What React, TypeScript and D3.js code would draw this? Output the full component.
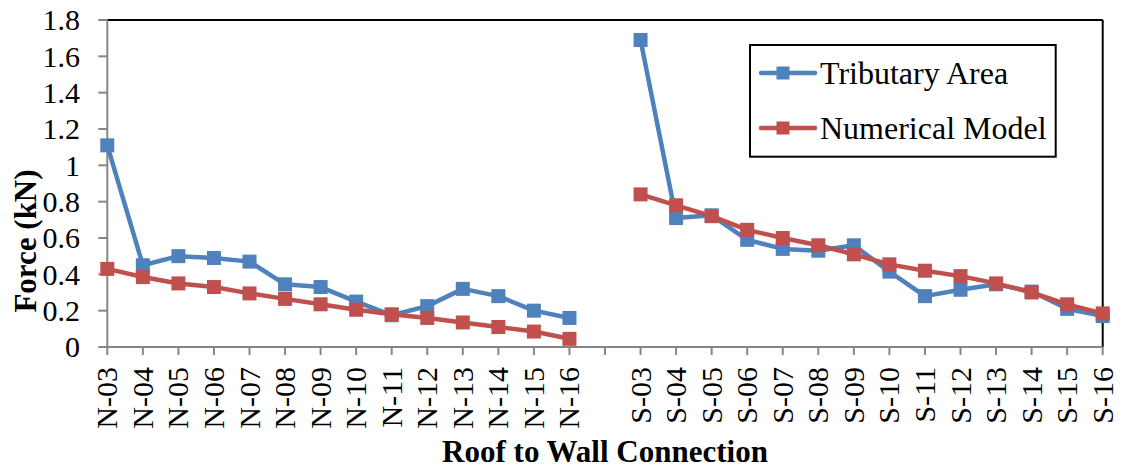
import React from "react";
import * as d3 from "d3";

// Connection labels (north wall, a blank slot, south wall)
const northLabels = ["N-03", "N-04", "N-05", "N-06", "N-07", "N-08", "N-09", "N-10", "N-11", "N-12", "N-13", "N-14", "N-15", "N-16"];
const southLabels = ["S-03", "S-04", "S-05", "S-06", "S-07", "S-08", "S-09", "S-10", "S-11", "S-12", "S-13", "S-14", "S-15", "S-16"];

// Force (kN) per connection
const tributaryNorth = [1.11, 0.45, 0.5, 0.49, 0.47, 0.345, 0.33, 0.25, 0.175, 0.225, 0.32, 0.28, 0.2, 0.16];
const tributarySouth = [1.69, 0.71, 0.725, 0.59, 0.54, 0.53, 0.56, 0.415, 0.28, 0.315, 0.345, 0.305, 0.21, 0.17];
const numericalNorth = [0.43, 0.385, 0.35, 0.33, 0.295, 0.265, 0.235, 0.205, 0.18, 0.16, 0.135, 0.11, 0.085, 0.045];
const numericalSouth = [0.84, 0.78, 0.72, 0.645, 0.6, 0.56, 0.51, 0.455, 0.42, 0.39, 0.35, 0.3, 0.235, 0.185];

const yTicks = [0, 0.2, 0.4, 0.6, 0.8, 1, 1.2, 1.4, 1.6, 1.8];

const seriesNames = ["Tributary Area", "Numerical Model"];
const seriesColors = ["#4F81BD", "#C0504D"];

const GAP = "__gap__";
const categories = [...northLabels, GAP, ...southLabels];

type Pt = { cat: string; v: number | null };
const build = (n: number[], s: number[]): Pt[] => [
  ...northLabels.map((c, i) => ({ cat: c, v: n[i] })),
  { cat: GAP, v: null },
  ...southLabels.map((c, i) => ({ cat: c, v: s[i] })),
];

const series = [build(tributaryNorth, tributarySouth), build(numericalNorth, numericalSouth)];

const W = 1122;
const H = 474;
const left = 107.3;
const right = 1102.7;
const top = 20;
const bottom = 347;

const css = `
  .chart text { font-family: "Liberation Serif", "Times New Roman", Tinos, serif; fill: #000; }
  .chart .title { font-weight: bold; }
`;

export default function App() {
  const x = d3.scalePoint<string>().domain(categories).range([left, right]);
  const y = d3.scaleLinear().domain([0, 1.8]).range([bottom, top]);
  const line = d3
    .line<Pt>()
    .defined((d) => d.v !== null)
    .x((d) => x(d.cat) as number)
    .y((d) => y(d.v as number));

  const axisGray = "#868686";
  const ms = 14;

  return (
    <div style={{ position: "absolute", left: 0, top: 0 }}>
      <style>{css}</style>
      <svg className="chart" width={W} height={H} style={{ display: "block", background: "#fff" }}>
        {/* plot frame: black top and right edges */}
        <line x1={left} x2={right} y1={top} y2={top} stroke="#000" strokeWidth={2} />
        <line x1={right} x2={right} y1={top} y2={bottom} stroke="#000" strokeWidth={2} />

        {/* y axis */}
        <line x1={left} x2={left} y1={top} y2={bottom} stroke={axisGray} strokeWidth={2} />
        {yTicks.map((t) => (
          <g key={t}>
            <line x1={left - 9} x2={left} y1={y(t)} y2={y(t)} stroke={axisGray} strokeWidth={2} />
            <text x={80} y={y(t)} dy="0.34em" textAnchor="end" fontSize={30}>
              {d3.format("~g")(t)}
            </text>
          </g>
        ))}

        {/* x axis */}
        <line x1={left} x2={right} y1={bottom} y2={bottom} stroke={axisGray} strokeWidth={2} />
        {categories.map((c) => (
          <g key={c}>
            <line x1={x(c)} x2={x(c)} y1={bottom} y2={bottom + 8} stroke={axisGray} strokeWidth={2} />
            {c !== GAP && (
              <text
                transform={`translate(${(x(c) as number) + 10},${367}) rotate(-90)`}
                textAnchor="end"
                fontSize={30}
              >
                {c}
              </text>
            )}
          </g>
        ))}

        {/* series */}
        {series.map((data, si) => (
          <g key={si}>
            <path d={line(data) ?? ""} fill="none" stroke={seriesColors[si]} strokeWidth={4.5} strokeLinejoin="round" />
            {data
              .filter((d) => d.v !== null)
              .map((d) => (
                <rect
                  key={d.cat}
                  x={(x(d.cat) as number) - ms / 2}
                  y={y(d.v as number) - ms / 2}
                  width={ms}
                  height={ms}
                  fill={seriesColors[si]}
                />
              ))}
          </g>
        ))}

        {/* axis titles */}
        <text className="title" transform={`translate(36,241) rotate(-90)`} textAnchor="middle" fontSize={31}>
          Force (kN)
        </text>
        <text className="title" x={605} y={462} textAnchor="middle" fontSize={31}>
          Roof to Wall Connection
        </text>

        {/* legend */}
        <rect x={750} y={45} width={305.7} height={111.7} fill="#fff" stroke="#000" strokeWidth={2} />
        {seriesNames.map((name, i) => {
          const ly = 73 + i * 55;
          return (
            <g key={name}>
              <line x1={761} x2={815} y1={ly} y2={ly} stroke={seriesColors[i]} strokeWidth={4.5} strokeLinecap="round" />
              <rect x={783 - 6.5} y={ly - 6.5} width={13} height={13} fill={seriesColors[i]} />
              <text x={820} y={ly} dy="0.33em" fontSize={32}>
                {name}
              </text>
            </g>
          );
        })}
      </svg>
    </div>
  );
}
